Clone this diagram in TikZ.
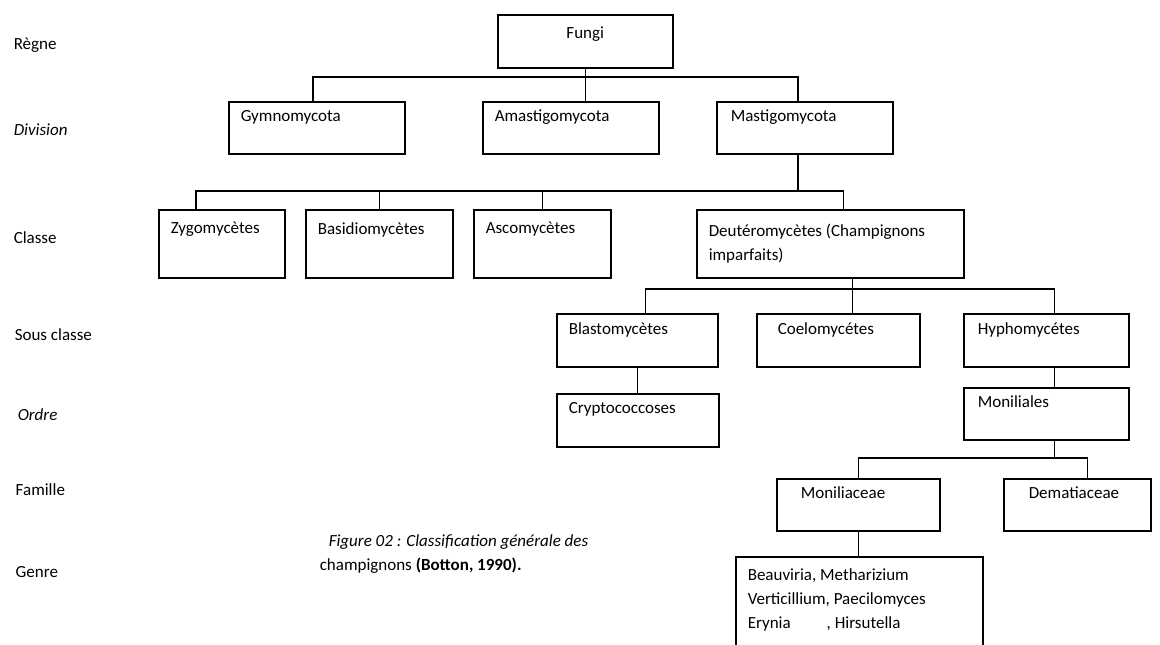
\documentclass[tikz,border=0pt]{standalone}
\usepackage{fontspec}
\setmainfont{Carlito}

\begin{document}
\begin{tikzpicture}[x=1pt,y=-1pt,line width=1.5pt,
	font=\fontsize{17}{24}\selectfont,
	taxon/.style 2 args={draw,anchor=north west,align=flush left,inner xsep=12pt,inner ysep=0pt,text width=#1,minimum height=#2},
	rank/.style={anchor=west,inner sep=0pt}]
	\useasboundingbox (0,0) rectangle (1160,645);
	\clip (0,0) rectangle (1160,645);
	% rank names on the left
	\node[rank] (regne) at (13,45) {Règne};
	\node[rank] (division) at (13,130) {\textit{Division}};
	\node[rank] (classe) at (13,238) {Classe};
	\node[rank] (sousclasse) at (14,335) {Sous classe};
	\node[rank] (ordre) at (17,415) {\textit{Ordre}};
	\node[rank] (famille) at (15,490) {Famille};
	\node[rank] (genre) at (15,572) {Genre};
	% taxa
	\node[taxon={151pt}{53pt},align=flush center] (fungi) at (497,14) {Fungi\\[-6pt]\mbox{}};
	\node[taxon={152pt}{52pt}] (gymno) at (228,101) {Gymnomycota\\\mbox{}};
	\node[taxon={152pt}{52pt}] (amastigo) at (482,101) {Amastigomycota\\\mbox{}};
	\node[taxon={148pt}{52pt},inner xsep=14pt] (mastigo) at (716,101) {Mastigomycota\\\mbox{}};
	\node[taxon={102pt}{68pt}] (zygo) at (158,209) {Zygomycètes\\\strut};
	\node[taxon={123pt}{68pt}] (basidio) at (305,209) {Basidiomycètes\\\strut};
	\node[taxon={113pt}{68pt}] (asco) at (473,209) {Ascomycètes\\\strut};
	\node[taxon={243pt}{68pt}] (deutero) at (696,209) {Deutéromycètes (Champignons\\imparfaits)};
	\node[taxon={137pt}{53pt}] (blasto) at (556,313) {Blastomycètes\\\mbox{}};
	\node[taxon={121pt}{53pt},inner xsep=21pt] (coelo) at (756,313) {Coelomycétes\\\mbox{}};
	\node[taxon={137pt}{53pt},inner xsep=14pt] (hypho) at (963,313) {Hyphomycétes\\\mbox{}};
	\node[taxon={138pt}{53pt}] (crypto) at (556,393) {Cryptococcoses\\\mbox{}};
	\node[taxon={137pt}{52pt},inner xsep=14pt] (moniliales) at (963,387) {Moniliales\\\mbox{}};
	\node[taxon={115pt}{52pt},inner xsep=24pt] (moniliaceae) at (776,478) {Moniliaceae\\\mbox{}};
	\node[taxon={97pt}{52pt},inner xsep=25pt] (dematiaceae) at (1003,478) {Dematiaceae\\\mbox{}};
	\node[taxon={223pt}{114pt}] (genres) at (735,556) {Beauviria, Metharizium\\Verticillium, Paecilomyces\\Erynia\hspace{36pt}, Hirsutella\\\strut};
	\node[anchor=north west,align=flush left,inner sep=0pt] (figcap) at (319,534)
		{\hspace*{9pt}\textit{Figure 02 : Classification générale des}\\champignons \textbf{(Botton, 1990).}};
	% buses between the ranks
	\coordinate (divbus) at (0,77);
	\coordinate (clsbus) at (0,191);
	\coordinate (subbus) at (0,289);
	\coordinate (fambus) at (0,458);
	\draw (fungi.south) -- (fungi.south |- amastigo.north);
	\draw ([xshift=-4pt]gymno.north) |- ([xshift=-7pt]mastigo.north |- divbus) -- ([xshift=-7pt]mastigo.north);
	\draw ([xshift=-7pt]mastigo.south) -- ([xshift=-7pt]mastigo.south |- clsbus);
	\draw ([xshift=-26pt]zygo.north) |- ([xshift=13pt]deutero.north |- clsbus) -- ([xshift=13pt]deutero.north);
	\draw (basidio.north) -- (basidio.north |- clsbus);
	\draw (asco.north) -- (asco.north |- clsbus);
	\draw ([xshift=22pt]deutero.south) -- ([xshift=22pt]deutero.south |- coelo.north);
	\draw ([xshift=8pt]blasto.north) |- ([xshift=8pt]hypho.north |- subbus) -- ([xshift=8pt]hypho.north);
	\draw (blasto.south) -- (blasto.south |- crypto.north);
	\draw ([xshift=8pt]hypho.south) -- ([xshift=8pt]moniliales.north);
	\draw ([xshift=8pt]moniliales.south) -- ([xshift=8pt]moniliales.south |- fambus);
	\draw (moniliaceae.north) |- ([xshift=10pt]dematiaceae.north |- fambus) -- ([xshift=10pt]dematiaceae.north);
	\draw (moniliaceae.south) -- (moniliaceae.south |- genres.north);
\end{tikzpicture}
\end{document}
